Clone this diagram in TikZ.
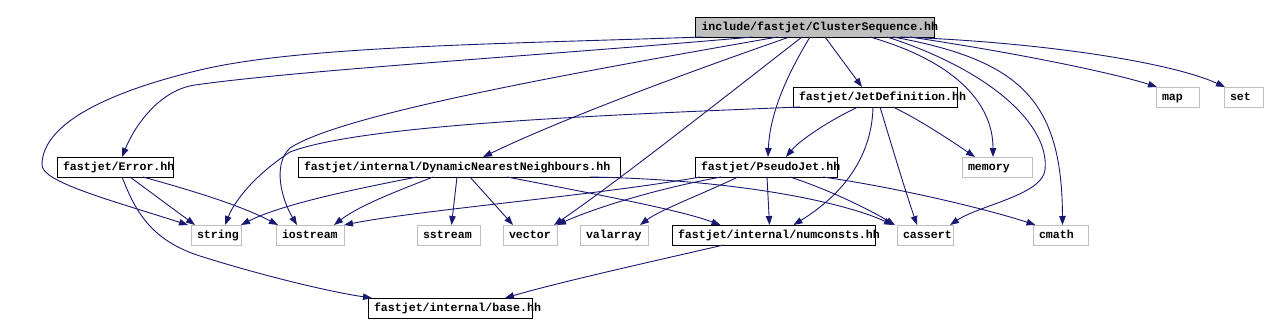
\documentclass[tikz,border=0pt]{standalone}
\usepackage{fontspec}
\newfontfamily\dotfont{Liberation Mono}
\usetikzlibrary{
    positioning,      % relative placement of the rows
    arrows.meta       % arrow tips
}
\definecolor{edgeblue}{HTML}{191970}
\definecolor{sysgrey}{HTML}{BFBFBF}

\begin{document}
\begin{tikzpicture}[
        x=1pt, y=-1pt,
        box/.style={
            rectangle,
            draw=black,
            line width=1pt,
            fill=white,
            inner xsep=6pt,
            inner ysep=0pt,
            outer sep=0pt,
            minimum height=20pt,
            text width=#1,
            text height=8.5pt,
            text depth=2.5pt,
            align=left,
            font=\dotfont\bfseries\fontsize{11.6}{12}\selectfont
        },
        box/.default=100pt,
        sysbox/.style={box=#1, draw=sysgrey},
        rootbox/.style={box=#1, fill=sysgrey},
        arrow/.style={
            -{Triangle[length=9pt,width=6.5pt]},
            edgeblue,
            line width=0.9pt
        }
    ]
    \useasboundingbox (0,0) rectangle (1265,332);

    % top: the header itself
    \node[rootbox=227pt] (root) at (815,27) {include/fastjet/ClusterSequence.hh};

    % first row
    \node[box=152pt] (jetdef) at (875,97) {fastjet/JetDefinition.hh};
    \node[sysbox=31pt, right=199pt of jetdef] (map) {map};
    \node[sysbox=27pt, right=25pt of map] (set) {set};

    % second row
    \node[box=104pt] (error) at (115,167) {fastjet/Error.hh};
    \node[box=310pt, right=125pt of error] (dynnn) {fastjet/internal/DynamicNearestNeighbours.hh};
    \node[box=130pt, right=75pt of dynnn] (pseudojet) {fastjet/PseudoJet.hh};
    \node[sysbox=58pt, right=125pt of pseudojet] (memory) {memory};

    % third row
    \node[sysbox=38pt] (string) at (216,235) {string};
    \node[sysbox=56pt, right=35pt of string] (iostream) {iostream};
    \node[sysbox=51pt, right=73pt of iostream] (sstream) {sstream};
    \node[sysbox=42pt, right=23pt of sstream] (vector) {vector};
    \node[sysbox=56pt, right=23pt of vector] (valarray) {valarray};
    \node[box=191pt, right=24pt of valarray] (numconsts) {fastjet/internal/numconsts.hh};
    \node[sysbox=44pt, right=22pt of numconsts] (cassert) {cassert};
    \node[sysbox=43pt, right=80pt of cassert] (cmath) {cmath};

    % bottom
    \node[box=152pt] (base) at (450,308) {fastjet/internal/base.hh};

    % includes of the header
    \draw[arrow] ([xshift=7pt]root.south west) .. controls (500,44) and (300,46) .. (200,70)
        .. controls (120,89) and (42,120) .. (42,165)
        .. controls (42,182) and (110,200) .. ([xshift=-3pt]string.north west);
    \draw[arrow] ([xshift=57pt]root.south west) .. controls (550,55) and (300,70) .. (195,85)
        .. controls (160,90) and (135,125) .. ([xshift=7pt]error.north);
    \draw[arrow] ([xshift=82pt]root.south west) .. controls (560,75) and (340,115) .. (290,148)
        .. controls (272,165) and (282,200) .. ([xshift=-13pt]iostream.north);
    \draw[arrow] ([xshift=94pt]root.south west) .. controls (680,75) and (560,120) .. ([xshift=24pt]dynnn.north);
    \draw[arrow] ([xshift=-13pt]root.south) .. controls (740,85) and (620,180) .. ([xshift=-3pt]vector.north east);
    \draw[arrow] ([xshift=-5pt]root.south) .. controls (790,70) and (770,110) .. ([xshift=2pt]pseudojet.north);
    \draw[arrow] ([xshift=10pt]root.south) -- ([xshift=-13pt]jetdef.north);
    \draw[arrow] ([xshift=55pt]root.south) .. controls (950,60) and (993,100) .. ([xshift=-4pt]memory.north);
    \draw[arrow] ([xshift=72pt]root.south) .. controls (990,70) and (1050,125) .. (1045,170)
        .. controls (1042,195) and (980,205) .. ([xshift=-3pt]cassert.north east);
    \draw[arrow] ([xshift=78pt]root.south) .. controls (1020,60) and (1062,100) .. ([xshift=2pt]cmath.north);
    \draw[arrow] ([xshift=95pt]root.south) .. controls (1030,55) and (1120,75) .. ([xshift=1pt]map.north west);
    \draw[arrow] ([xshift=85pt]root.south) .. controls (1040,42) and (1170,62) .. ([xshift=1pt]set.north west);

    % includes of JetDefinition.hh
    \draw[arrow] ([xshift=7pt]jetdef.south west) .. controls (600,115) and (360,125) .. (290,152)
        .. controls (255,175) and (235,200) .. ([xshift=9pt]string.north);
    \draw[arrow] ([xshift=-17pt]jetdef.south) .. controls (830,120) and (800,140) .. ([xshift=20pt]pseudojet.north);
    \draw[arrow] ([xshift=-2pt]jetdef.south) .. controls (872,150) and (850,190) .. ([xshift=20pt]numconsts.north);
    \draw[arrow] ([xshift=5pt]jetdef.south) .. controls (890,140) and (905,190) .. ([xshift=-8pt]cassert.north);
    \draw[arrow] ([xshift=18pt]jetdef.south) .. controls (920,120) and (950,140) .. ([xshift=-22pt]memory.north);

    % includes of PseudoJet.hh
    \draw[arrow] ([xshift=1pt]pseudojet.south) -- ([xshift=-4pt]numconsts.north);
    \draw[arrow] ([xshift=24pt]pseudojet.south) .. controls (830,190) and (870,210) .. ([xshift=-30pt]cassert.north);
    \draw[arrow] ([xshift=57pt]pseudojet.south) .. controls (900,188) and (990,210) .. ([xshift=-25pt]cmath.north);
    \draw[arrow] ([xshift=-28pt]pseudojet.south) .. controls (700,195) and (660,210) .. ([xshift=26pt]valarray.north);
    \draw[arrow] ([xshift=-45pt]pseudojet.south) .. controls (650,190) and (590,210) .. (vector.north east);
    \draw[arrow] ([xshift=5pt]pseudojet.south west) .. controls (600,195) and (420,210) .. (iostream.north east);

    % includes of DynamicNearestNeighbours.hh
    \draw[arrow] ([xshift=-42pt]dynnn.south) .. controls (350,190) and (280,205) .. (string.north east);
    \draw[arrow] ([xshift=-26pt]dynnn.south) .. controls (400,190) and (360,205) .. ([xshift=-10pt]iostream.north east);
    \draw[arrow] ([xshift=-2pt]dynnn.south) -- ([xshift=3pt]sstream.north);
    \draw[arrow] ([xshift=11pt]dynnn.south) -- ([xshift=-17pt]vector.north);
    \draw[arrow] ([xshift=48pt]dynnn.south) .. controls (600,195) and (680,210) .. ([xshift=-53pt]numconsts.north);
    \draw[arrow] ([xshift=-30pt]dynnn.south east) .. controls (750,180) and (850,205) .. ([xshift=-32pt]cassert.north);

    % includes of Error.hh
    \draw[arrow] ([xshift=15pt]error.south) -- ([xshift=4pt]string.north west);
    \draw[arrow] ([xshift=28pt]error.south) .. controls (190,190) and (240,205) .. ([xshift=2pt]iostream.north west);
    \draw[arrow] ([xshift=7pt]error.south) .. controls (135,210) and (150,240) .. (200,256)
        .. controls (260,275) and (330,292) .. ([xshift=4pt]base.north west);

    % includes of numconsts.hh
    \draw[arrow] ([xshift=-50pt]numconsts.south) .. controls (650,262) and (560,282) .. ([xshift=55pt]base.north);
\end{tikzpicture}
\end{document}
